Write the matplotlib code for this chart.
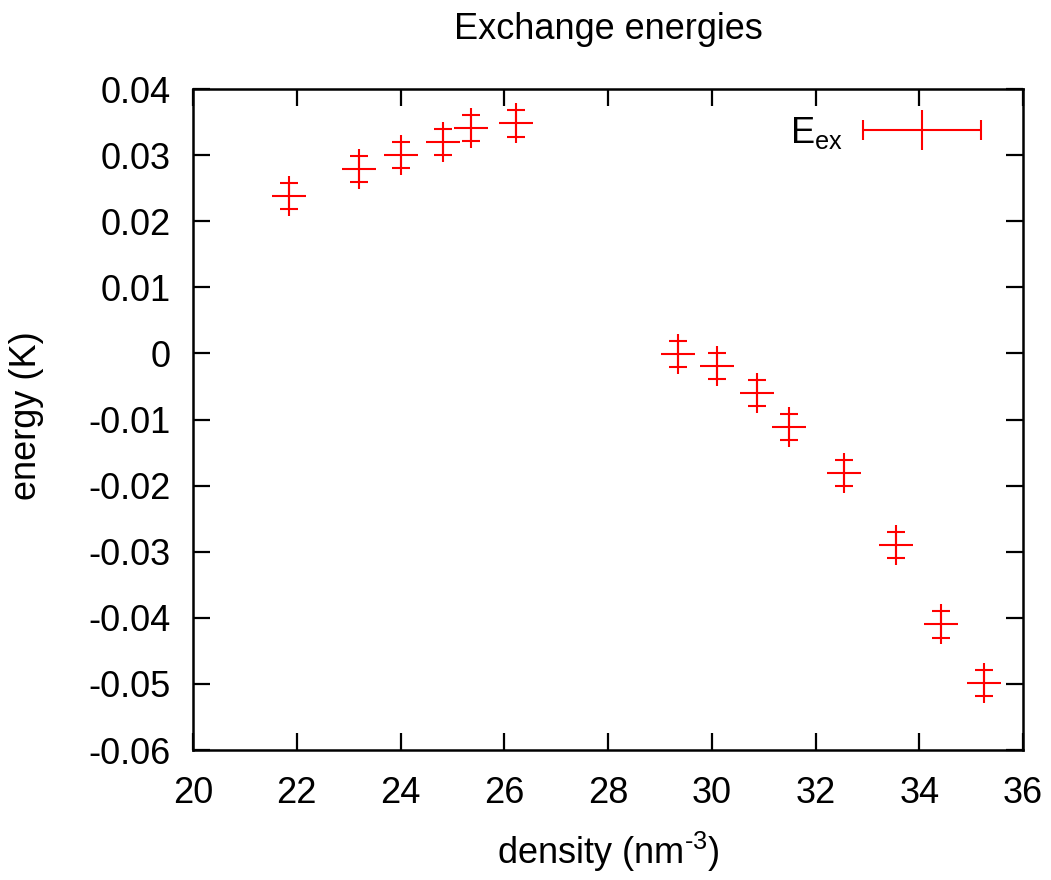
import matplotlib
matplotlib.use('Agg')
import matplotlib.pyplot as plt
from matplotlib.path import Path
from matplotlib.lines import Line2D
from matplotlib.ticker import FuncFormatter

# ---- data ----
density = [21.85, 23.20, 24.01, 24.82, 25.36, 26.23,
           29.35, 30.10, 30.87, 31.49, 32.55, 33.55, 34.42, 35.25]
energy = [0.0238, 0.0279, 0.0300, 0.0320, 0.0341, 0.0348,
          -0.0001, -0.0019, -0.0060, -0.0111, -0.0181, -0.0290, -0.0410, -0.0499]
energy_err = [0.002, 0.002, 0.002, 0.002, 0.002, 0.002,
              0.002, 0.002, 0.002, 0.002, 0.002, 0.002, 0.002, 0.002]
x_ticks = [20, 22, 24, 26, 28, 30, 32, 34, 36]
y_ticks = [-0.06, -0.05, -0.04, -0.03, -0.02, -0.01, 0.0, 0.01, 0.02, 0.03, 0.04]
series_label = r'E$_{\mathrm{ex}}$'
title = 'Exchange energies'
xlabel = r'density (nm$^{\text{-3}}$)'
ylabel = 'energy (K)'

plt.rcParams['font.family'] = ['Liberation Sans', 'DejaVu Sans']
plt.rcParams['mathtext.fontset'] = 'custom'
plt.rcParams['mathtext.rm'] = 'Liberation Sans'
plt.rcParams['mathtext.it'] = 'Liberation Sans'
plt.rcParams['axes.unicode_minus'] = False

RED = '#ff0000'
FS = 26

fig = plt.figure(figsize=(10.51, 8.8), dpi=100)
L, R, T, B = 193, 1023, 89, 750
ax = fig.add_axes([L / 1051, 1 - B / 880, (R - L) / 1051, (B - T) / 880])

def ax_x(px):
    return (px - L) / (R - L)

def ax_y(py):
    return (B - py) / (B - T)

# point marker: wide horizontal bar + vertical stroke
pt_marker = Path([(-17, 0), (17, 0), (0, -20), (0, 20)],
                 [Path.MOVETO, Path.LINETO, Path.MOVETO, Path.LINETO])
ax.errorbar(density, energy, yerr=energy_err, fmt='none', ecolor=RED,
            elinewidth=1.5, capsize=6.5, capthick=1.5)
ax.plot(density, energy, linestyle='none', marker=pt_marker, markersize=28.8,
        markeredgecolor=RED, markerfacecolor='none', markeredgewidth=1.5)

ax.set_xlim(20, 36)
ax.set_ylim(-0.06, 0.04)
ax.set_xticks(x_ticks)
ax.set_yticks(y_ticks)
fmt = FuncFormatter(lambda v, p: '%g' % round(v, 6))
ax.xaxis.set_major_formatter(fmt)
ax.yaxis.set_major_formatter(fmt)
ax.tick_params(direction='in', top=True, right=True, length=12, width=1.6,
               labelsize=FS, colors='black')
ax.tick_params(axis='y', pad=16)
ax.tick_params(axis='x', pad=19)
for s in ax.spines.values():
    s.set_linewidth(1.8)
    s.set_color('black')

ax.set_title(title, fontsize=FS, y=ax_y(39), pad=0)
ax.set_xlabel(xlabel, fontsize=FS)
ax.xaxis.set_label_coords(0.5, ax_y(864))
ax.xaxis.label.set_va('baseline')
ax.set_ylabel(ylabel, fontsize=FS)
ax.yaxis.set_label_coords(ax_x(36), ax_y(416))
ax.yaxis.label.set_va('baseline')

# legend: gnuplot-style horizontal errorbar key
key_marker = Path([(-59, 0), (59, 0), (-59, -10), (-59, 10), (59, -10), (59, 10), (0, -20), (0, 20)],
                  [Path.MOVETO, Path.LINETO, Path.MOVETO, Path.LINETO,
                   Path.MOVETO, Path.LINETO, Path.MOVETO, Path.LINETO])
handle = Line2D([], [], linestyle='none', marker=key_marker, markersize=85,
                markeredgecolor=RED, markerfacecolor='none', markeredgewidth=1.5)
ax.legend([handle], [series_label], loc='center right',
          bbox_to_anchor=(ax_x(981), ax_y(133)),
          frameon=False, markerfirst=False, borderpad=0, borderaxespad=0,
          handlelength=118 / 36.1, handletextpad=0.55, fontsize=FS, numpoints=1)

fig.savefig('out.png', dpi=100)
